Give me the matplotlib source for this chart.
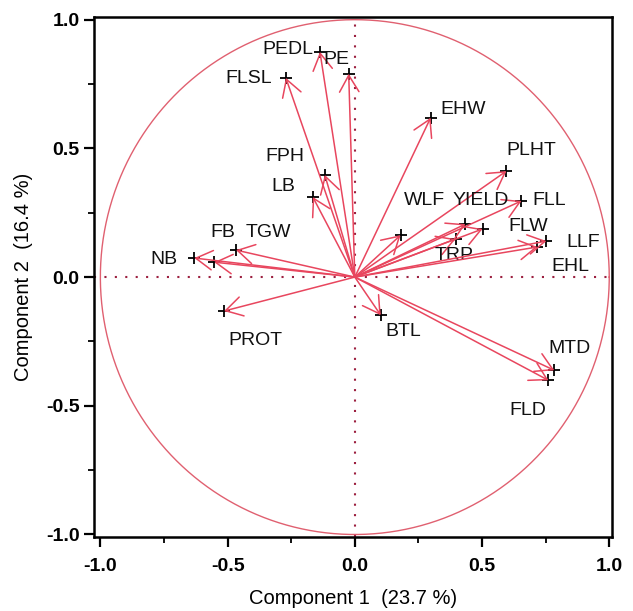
import matplotlib.pyplot as plt
import numpy as np

plt.rcParams['font.family'] = ['Liberation Sans', 'DejaVu Sans']

# loadings (component 1, component 2)
traits = ["PEDL", "PE", "FLSL", "FPH", "LB", "EHW", "PLHT", "FLL", "YIELD", "WLF",
          "FLW", "TRP", "LLF", "EHL", "NB", "FB", "TGW", "PROT", "BTL", "MTD", "FLD"]
pc1 = [-0.137, -0.024, -0.271, -0.118, -0.165, 0.298, 0.596, 0.655, 0.435, 0.180,
       0.502, 0.396, 0.753, 0.718, -0.631, -0.553, -0.467, -0.514, 0.102, 0.784, 0.761]
pc2 = [0.875, 0.790, 0.774, 0.397, 0.311, 0.619, 0.412, 0.296, 0.206, 0.163,
       0.187, 0.148, 0.140, 0.117, 0.074, 0.058, 0.105, -0.132, -0.148, -0.362, -0.401]
# where each name is written
lab_x = [-0.263, -0.071, -0.416, -0.275, -0.282, 0.427, 0.694, 0.765, 0.494, 0.275,
         0.682, 0.392, 0.898, 0.847, -0.749, -0.518, -0.341, -0.392, 0.192, 0.843, 0.678]
lab_y = [0.883, 0.844, 0.770, 0.467, 0.350, 0.650, 0.490, 0.296, 0.296, 0.296,
         0.198, 0.082, 0.136, 0.043, 0.070, 0.175, 0.175, -0.245, -0.210, -0.276, -0.518]

arrow_col = "#e8465e"

fig = plt.figure(figsize=(6.33, 6.11), dpi=100)
ax = fig.add_axes([0.1485, 0.121, 0.818, 0.851])

# unit circle
t = np.linspace(0, 2 * np.pi, 400)
ax.plot(np.cos(t), np.sin(t), color="#e06070", lw=1)

# reference lines
ax.axhline(0, color="#9c2040", lw=1.5, ls=(0, (1, 4)))
ax.axvline(0, color="#9c2040", lw=1.5, ls=(0, (1, 4)))

for name, x, y, lx, ly in zip(traits, pc1, pc2, lab_x, lab_y):
    ax.annotate("", xy=(x, y), xytext=(0, 0),
                arrowprops=dict(arrowstyle="->,head_length=1.2,head_width=0.7",
                                color=arrow_col, lw=1.1, shrinkA=0, shrinkB=0))
    ax.plot(x, y, marker="+", color="black", ms=8, mew=1.3)
    ax.text(lx, ly, name, fontsize=14, ha="center", va="center", color="#111111")

ax.set_xlim(-1.025, 1.01)
ax.set_ylim(-1.01, 1.01)
ticks = [-1.0, -0.5, 0.0, 0.5, 1.0]
ax.set_xticks(ticks)
ax.set_yticks(ticks)
ax.set_xticks(np.arange(-1.0, 1.01, 0.25), minor=True)
ax.set_yticks(np.arange(-1.0, 1.01, 0.25), minor=True)
ax.set_xticklabels([f"{v:.1f}" for v in ticks], fontweight="bold")
ax.set_yticklabels([f"{v:.1f}" for v in ticks], fontweight="bold")
ax.tick_params(which="major", length=7, width=1.6, labelsize=14, direction="out")
ax.tick_params(axis="x", which="major", pad=8)
ax.tick_params(which="minor", length=4, width=1.3, direction="out")
for s in ax.spines.values():
    s.set_linewidth(1.8)

ax.set_xlabel("Component 1  (23.7 %)", fontsize=14.5, labelpad=10)
ax.set_ylabel("Component 2  (16.4 %)", fontsize=14.5, labelpad=9)

fig.savefig("out.png", dpi=100)
